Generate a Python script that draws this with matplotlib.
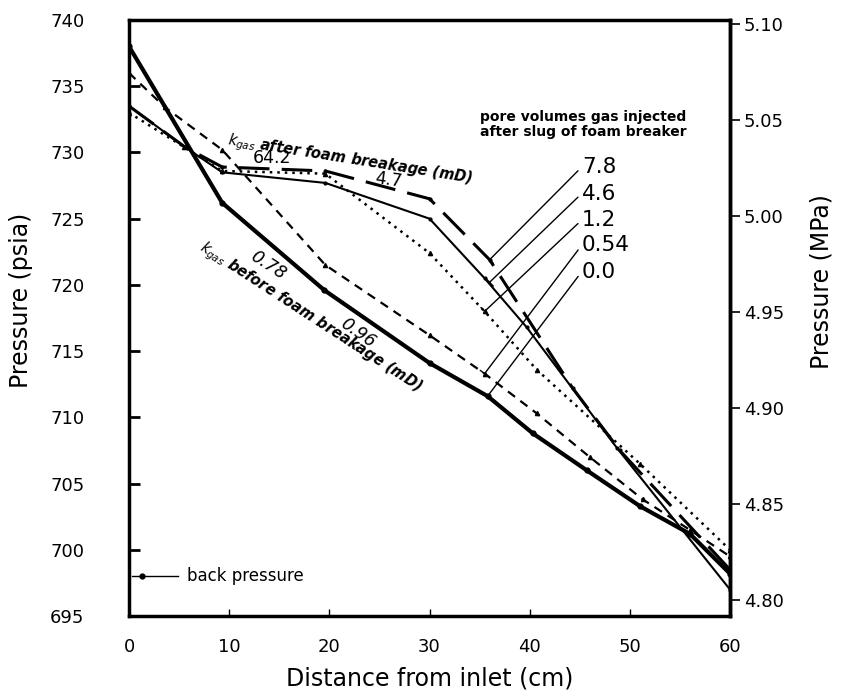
'''
Pressure profile along the core before and after a slug of foam breaker.
'''

from matplotlib import pyplot as pl

# Pore volumes gas injected after slug of foam breaker: 0.0
x_00 = [0, 9.3, 19.5, 30, 35.8, 40.3, 45.7, 51, 56, 60]
p_00 = [738.0, 726.2, 719.6, 714.1, 711.6, 708.8, 706.0, 703.3, 701.2, 698.2]

# 0.54
x_054 = [0, 3.6, 9.3, 19.6, 30, 35.5, 40.7, 46, 51.3, 56, 60]
p_054 = [736.0, 733.4, 730.2, 721.5, 716.2, 713.3, 710.3, 707.0, 703.8, 701.5, 699.5]

# 1.2
x_12 = [0, 5.5, 9.3, 19.6, 30, 35.5, 40.7, 51, 60]
p_12 = [733.0, 730.4, 728.6, 728.4, 722.4, 718.0, 713.6, 706.5, 700.0]

# 4.6
x_46 = [0, 5.6, 9.3, 19.6, 30, 35.5, 39.7, 48.7, 60]
p_46 = [733.5, 730.4, 728.5, 727.7, 725.0, 720.5, 716.8, 707.7, 697.0]

# 7.8
x_78 = [0, 5.6, 9.3, 19.6, 30, 36, 44.3, 49, 60]
p_78 = [733.5, 730.4, 728.9, 728.6, 726.5, 721.9, 712.2, 707.5, 698.5]

back_pressure = 698.0

# Labels for the curves and the points the leader lines go to
pv_labels = ['7.8', '4.6', '1.2', '0.54', '0.0']
pv_label_y = [728.9, 726.9, 724.9, 723.0, 721.0]
pv_point_x = [36.0, 36.0, 35.5, 35.5, 35.8]
pv_point_y = [721.9, 720.2, 718.0, 713.3, 711.6]

mpa_ticks = [4.80, 4.85, 4.90, 4.95, 5.00, 5.05, 5.10]
psia_to_mpa = 0.00689476

fig = pl.figure(figsize=(8.45, 6.99), dpi=100)
ax = fig.add_axes([0.1527, 0.1187, 0.7112, 0.8527])

ax.plot(x_00, p_00, color='black', lw=3.0, marker='o', ms=3.5)
ax.plot(x_054, p_054, color='black', lw=1.6, linestyle=(0, (4, 3)),
        marker='^', ms=3)
ax.plot(x_12, p_12, color='black', lw=1.8, linestyle=(0, (1, 2)),
        marker='^', ms=3)
ax.plot(x_46, p_46, color='black', lw=1.5, marker='.', ms=4)
ax.plot(x_78, p_78, color='black', lw=2.2, linestyle=(0, (10, 4)),
        marker='.', ms=4)

# Back pressure marker
ax.plot([0.3, 4.9], [back_pressure, back_pressure], color='black', lw=1.0)
ax.plot([1.3], [back_pressure], color='black', marker='o', ms=3.5)
ax.text(5.8, back_pressure, 'back pressure', fontsize=12, va='center')

# Permeability annotations
ax.text(22.05, 729.4, r'$k_{gas}$ after foam breakage (mD)', fontsize=10.5,
        style='italic', weight='bold', rotation=-9, rotation_mode='anchor',
        ha='center', va='center')
ax.text(14.27, 729.6, '64.2', fontsize=12.5, ha='center', va='center')
ax.text(25.85, 727.9, '4.7', fontsize=12.5, ha='center', va='center',
        rotation=-8, rotation_mode='anchor')
ax.text(18.1, 717.5, r'$k_{gas}$ before foam breakage (mD)', fontsize=10.5,
        style='italic', weight='bold', rotation=-33, rotation_mode='anchor',
        ha='center', va='center')
ax.text(13.87, 721.5, '0.78', fontsize=12.5, style='italic', ha='center',
        va='center', rotation=-33, rotation_mode='anchor')
ax.text(22.85, 716.4, '0.96', fontsize=12.5, style='italic', ha='center',
        va='center', rotation=-35, rotation_mode='anchor')

ax.text(35.0, 732.1, 'pore volumes gas injected\nafter slug of foam breaker',
        fontsize=10, weight='bold', va='center', ha='left', linespacing=1.05)

for lab, ly, px, py in zip(pv_labels, pv_label_y, pv_point_x, pv_point_y):
    ax.annotate(lab, xy=(px, py), xytext=(45.2, ly), fontsize=15.5,
                ha='left', va='center',
                arrowprops=dict(arrowstyle='-[, widthB=0.25, lengthB=0.0',
                                color='black', lw=1.0, relpos=(0, 0.5),
                                shrinkA=1, shrinkB=0))

ax.set_xlim(0, 60)
ax.set_ylim(695, 740)
ax.set_xticks(range(0, 61, 10))
ax.set_yticks(range(695, 741, 5))

for side in ['left', 'right', 'top', 'bottom']:
    ax.spines[side].set_linewidth(2.5)

ax.tick_params(axis='y', direction='in', length=8, width=2,
               labelsize=13, pad=32)
ax.tick_params(axis='x', direction='in', length=5, width=1,
               labelsize=13, pad=16)

ax.set_xlabel('Distance from inlet (cm)', fontsize=17)
ax.set_ylabel('Pressure (psia)', fontsize=17)
ax.xaxis.set_label_coords(0.5, -0.085)
ax.yaxis.set_label_coords(-0.16, 0.53)

# Second pressure axis in MPa
sec = ax.secondary_yaxis('right', functions=(lambda p: p*psia_to_mpa,
                                             lambda m: m/psia_to_mpa))
sec.set_yticks(mpa_ticks)
sec.set_yticklabels(['%.2f' % v for v in mpa_ticks])
sec.tick_params(direction='out', length=7, width=1.2, labelsize=13, pad=3)
sec.spines['right'].set_linewidth(2.5)
fig.text(0.972, 0.597, 'Pressure (MPa)', fontsize=17, rotation=90,
         ha='center', va='center')

pl.savefig('out.png', dpi=100)
pl.close('all')
